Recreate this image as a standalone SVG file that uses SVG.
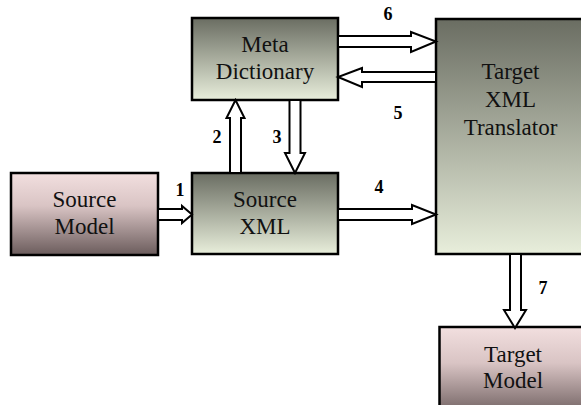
<svg xmlns="http://www.w3.org/2000/svg" width="581" height="405" viewBox="0 0 581 405">
<defs>
<linearGradient id="gGreen" x1="0" y1="0" x2="0" y2="1">
<stop offset="0" stop-color="#6a6d62"/>
<stop offset="1" stop-color="#e8eedb"/>
</linearGradient>
<linearGradient id="gPink" x1="0" y1="0" x2="0" y2="1">
<stop offset="0" stop-color="#f2dfdf"/>
<stop offset="0.4" stop-color="#d9c4c4"/>
<stop offset="1" stop-color="#6b5c5c"/>
</linearGradient>
<style>
.box{stroke:#000;stroke-width:2.5}
.green{fill:url(#gGreen)}
.pink{fill:url(#gPink)}
.t{font-family:"Liberation Serif","Times New Roman",serif;font-size:23px;fill:#111;text-anchor:middle}
.n{font-family:"Liberation Serif","Times New Roman",serif;font-size:18px;font-weight:bold;fill:#000;text-anchor:middle}
.arr{fill:#fff;stroke:#000;stroke-width:2;stroke-linejoin:miter}
</style>
</defs>
<rect width="581" height="405" fill="#fff"/>
<g id="meta">
<rect class="box green" x="192" y="18" width="146" height="82"/>
<text class="t" x="265" y="52">Meta</text>
<text class="t" x="265" y="79">Dictionary</text>
</g>
<g id="sourceModel">
<rect class="box pink" x="11" y="173" width="147" height="82"/>
<text class="t" x="84.5" y="207">Source</text>
<text class="t" x="84.5" y="234">Model</text>
</g>
<g id="sourceXML">
<rect class="box green" x="192" y="173" width="146" height="81"/>
<text class="t" x="265" y="207">Source</text>
<text class="t" x="265" y="234">XML</text>
</g>
<g id="translator">
<rect class="box green" x="436" y="19" width="150" height="235"/>
<text class="t" x="510.5" y="79">Target</text>
<text class="t" x="510.5" y="107">XML</text>
<text class="t" x="510.5" y="135">Translator</text>
</g>
<g id="targetModel">
<rect class="box pink" x="439.5" y="327" width="150" height="90"/>
<text class="t" x="513" y="362">Target</text>
<text class="t" x="513" y="388">Model</text>
</g>
<g id="connectors">
<polygon class="arr" points="158,209 182,209 182,206 192,214.5 182,223 182,220 158,220"/>
<polygon class="arr" points="230,173 230,118 226.5,118 235.5,100 244.5,118 241,118 241,173"/>
<polygon class="arr" points="289.5,100 289.5,153 285,153 295,173 305,153 300.5,153 300.5,100"/>
<polygon class="arr" points="338,209 412,209 412,205 436,214.5 412,224 412,220 338,220"/>
<polygon class="arr" points="436,72 362,72 362,68 338,77 362,87 362,82 436,82"/>
<polygon class="arr" points="338,36 411,36 411,32 436,41.5 411,52 411,47 338,47"/>
<polygon class="arr" points="510,254 510,310 504,310 515,328 526,310 521,310 521,254"/>
<text class="n" x="180" y="196">1</text>
<text class="n" x="217" y="143">2</text>
<text class="n" x="277" y="143">3</text>
<text class="n" x="379" y="193">4</text>
<text class="n" x="398" y="119">5</text>
<text class="n" x="388" y="20">6</text>
<text class="n" x="543" y="294">7</text>
</g>
</svg>
